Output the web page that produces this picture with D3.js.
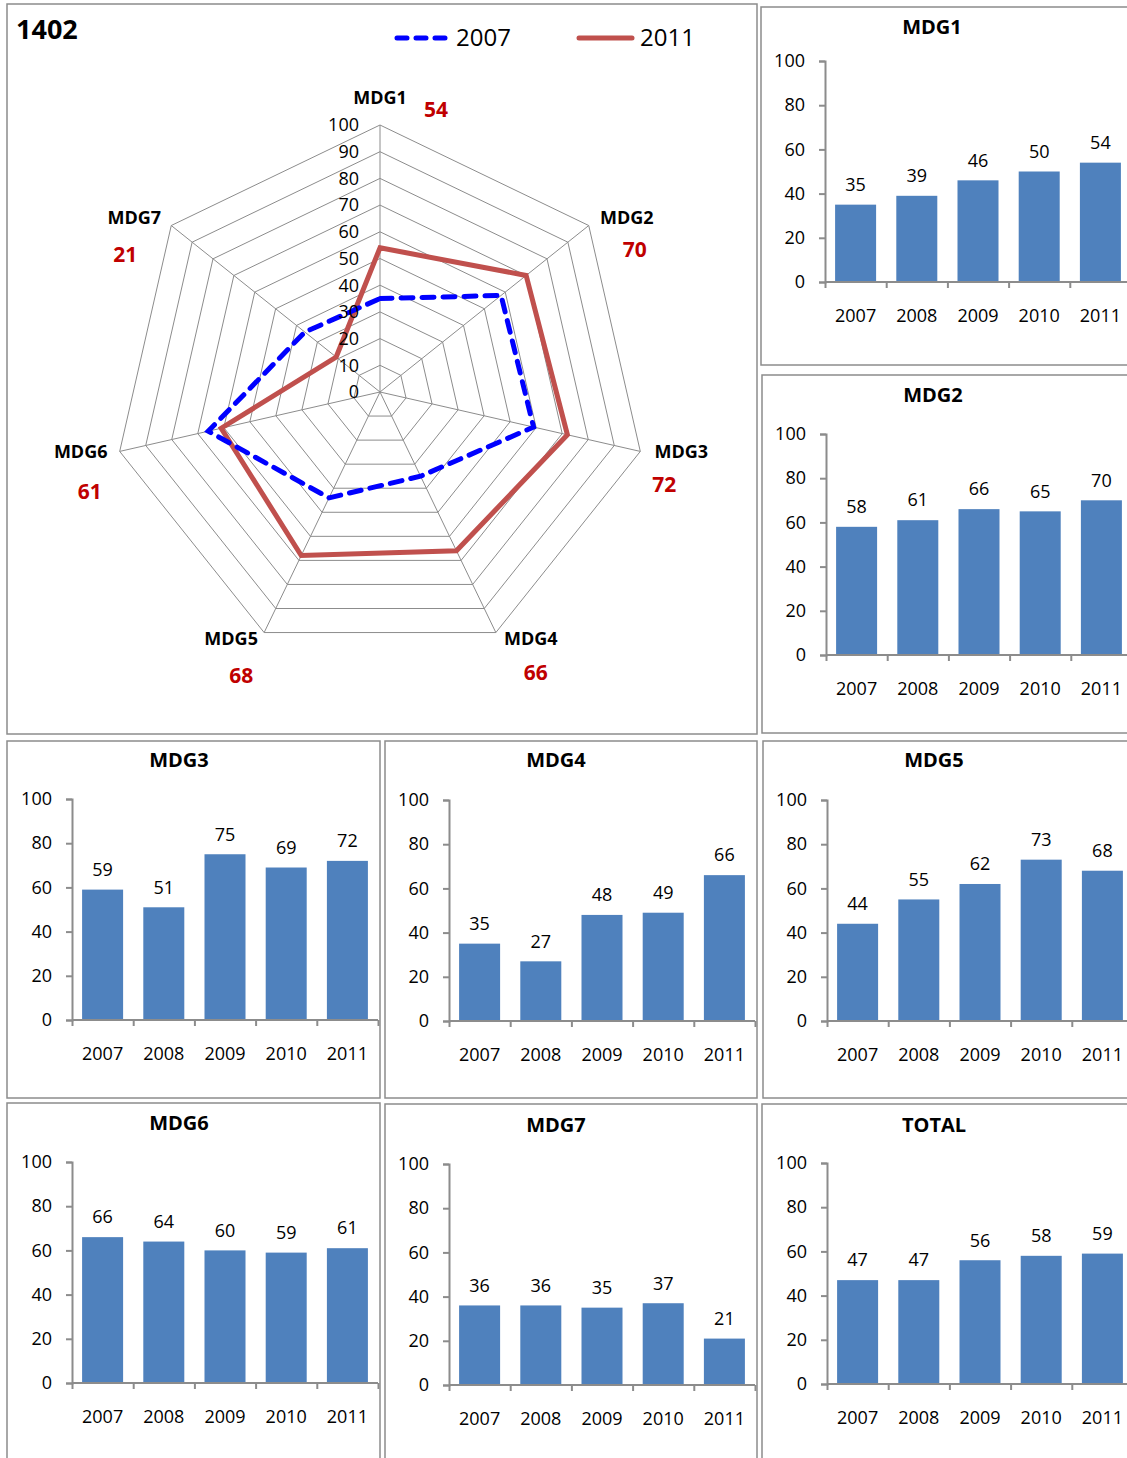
<!DOCTYPE html>
<html>
<head>
<meta charset="utf-8">
<script src="https://cdn.jsdelivr.net/npm/d3@7"></script>
<style>
body { margin: 0; background: #fff; }
svg { display: block; font-family: "Open Sans", sans-serif; }
</style>
</head>
<body>
<svg width="1127" height="1458"></svg>
<script>
// data
var years = ["2007", "2008", "2009", "2010", "2011"];
var goals = ["MDG1", "MDG2", "MDG3", "MDG4", "MDG5", "MDG6", "MDG7"];
var mdg1 = [35, 39, 46, 50, 54];
var mdg2 = [58, 61, 66, 65, 70];
var mdg3 = [59, 51, 75, 69, 72];
var mdg4 = [35, 27, 48, 49, 66];
var mdg5 = [44, 55, 62, 73, 68];
var mdg6 = [66, 64, 60, 59, 61];
var mdg7 = [36, 36, 35, 37, 21];
var total = [47, 47, 56, 58, 59];
var yTicks = [0, 20, 40, 60, 80, 100];
var radarTicks = [0, 10, 20, 30, 40, 50, 60, 70, 80, 90, 100];

var allGoals = [mdg1, mdg2, mdg3, mdg4, mdg5, mdg6, mdg7];
var radar2007 = allGoals.map(function(d) { return d[0]; });
var radar2011 = allGoals.map(function(d) { return d[4]; });

var svg = d3.select("svg");
var grey = "#8c8c8c";

// panel frames
var frames = [
  [7, 4, 750, 730], [761, 7, 380, 358], [762, 375, 380, 358],
  [7, 741, 373, 357], [385, 741, 372, 357], [763, 741, 380, 357],
  [7, 1103, 373, 370], [385, 1104, 372, 370], [762, 1104, 380, 370]
];
svg.selectAll("rect.frame").data(frames).enter().append("rect")
  .attr("class", "frame")
  .attr("x", function(d) { return d[0]; }).attr("y", function(d) { return d[1]; })
  .attr("width", function(d) { return d[2]; }).attr("height", function(d) { return d[3]; })
  .attr("fill", "none").attr("stroke", grey).attr("stroke-width", 1.5);

// ---- radar ----
var cx = 380, cy = 392;
var rs = d3.scaleLinear().domain([0, 100]).range([0, 267]);
var ang = function(i) { return i * 2 * Math.PI / goals.length; };
function pt(i, v) { return [cx + rs(v) * Math.sin(ang(i)), cy - rs(v) * Math.cos(ang(i))]; }

var rg = svg.append("g");
radarTicks.slice(1).forEach(function(t) {
  rg.append("polygon")
    .attr("points", goals.map(function(g, i) { return pt(i, t).join(","); }).join(" "))
    .attr("fill", "none").attr("stroke", grey).attr("stroke-width", 1);
});
goals.forEach(function(g, i) {
  var p = pt(i, 100);
  rg.append("line").attr("x1", cx).attr("y1", cy).attr("x2", p[0]).attr("y2", p[1])
    .attr("stroke", grey).attr("stroke-width", 1);
});

var line = d3.line().curve(d3.curveLinearClosed);
rg.append("path")
  .attr("d", line(radar2011.map(function(v, i) { return pt(i, v); })))
  .attr("fill", "none").attr("stroke", "#C0504D").attr("stroke-width", 5)
  .attr("stroke-linejoin", "miter");
rg.append("path")
  .attr("d", line(radar2007.map(function(v, i) { return pt(i, v); })))
  .attr("fill", "none").attr("stroke", "#0000FF").attr("stroke-width", 5)
  .attr("stroke-dasharray", "12,9").attr("stroke-linecap", "round");

// radial tick labels
rg.selectAll("text.rt").data(radarTicks).enter().append("text")
  .attr("x", cx - 21).attr("y", function(d) { return cy - rs(d); })
  .attr("dy", "0.35em").attr("text-anchor", "end")
  .attr("font-size", 18).attr("fill", "#000")
  .text(function(d) { return d; });

// axis labels + 2011 values, nudged off the outer vertex the way Excel places them
var labelOff = [[0, -27], [38, -8], [41, 0], [35, 6], [-33, 6], [-39, 0], [-37, -8]];
var valueOff = [[56, 12], [8, 32], [-17, 33], [5, 34], [10, 37], [9, 40], [-9, 37]];
goals.forEach(function(g, i) {
  var p = pt(i, 100);
  var x = p[0] + labelOff[i][0], y = p[1] + labelOff[i][1];
  rg.append("text").attr("x", x).attr("y", y).attr("dy", "0.35em")
    .attr("text-anchor", "middle").attr("font-size", 18).attr("font-weight", "bold")
    .text(g);
  rg.append("text").attr("x", x + valueOff[i][0]).attr("y", y + valueOff[i][1]).attr("dy", "0.35em")
    .attr("text-anchor", "middle").attr("font-size", 21).attr("font-weight", "bold")
    .attr("fill", "#C00000")
    .text(radar2011[i]);
});

svg.append("text").attr("x", 16).attr("y", 39).attr("font-size", 27)
  .attr("font-weight", "bold").text("1402");

// legend
svg.append("line").attr("x1", 397).attr("x2", 445).attr("y1", 38).attr("y2", 38)
  .attr("stroke", "#0000FF").attr("stroke-width", 5)
  .attr("stroke-dasharray", "10,9").attr("stroke-linecap", "round");
svg.append("text").attr("x", 456).attr("y", 38).attr("dy", "0.35em")
  .attr("font-size", 24).text("2007");
svg.append("line").attr("x1", 579).attr("x2", 632).attr("y1", 38).attr("y2", 38)
  .attr("stroke", "#C0504D").attr("stroke-width", 5).attr("stroke-linecap", "round");
svg.append("text").attr("x", 640).attr("y", 38).attr("dy", "0.35em")
  .attr("font-size", 24).text("2011");

// ---- bar charts ----
var charts = [
  { title: "MDG1", values: mdg1, x: 825, y: 61, t: -34 },
  { title: "MDG2", values: mdg2, x: 826, y: 434, t: -39 },
  { title: "MDG3", values: mdg3, x: 72, y: 799, t: -39 },
  { title: "MDG4", values: mdg4, x: 449, y: 800, t: -40 },
  { title: "MDG5", values: mdg5, x: 827, y: 800, t: -40 },
  { title: "MDG6", values: mdg6, x: 72, y: 1162, t: -39 },
  { title: "MDG7", values: mdg7, x: 449, y: 1164, t: -39 },
  { title: "TOTAL", values: total, x: 827, y: 1163, t: -38 }
];
var W = 306, H = 221;
var xs = d3.scaleBand().domain(years).range([0, W]).paddingInner(0.33).paddingOuter(0.165);
var ys = d3.scaleLinear().domain([0, 100]).range([H, 0]);
var xb = d3.scaleLinear().domain([0, years.length]).range([0, W]);

charts.forEach(function(c) {
  var g = svg.append("g").attr("transform", "translate(" + c.x + "," + c.y + ")");

  g.selectAll("rect").data(c.values).enter().append("rect")
    .attr("x", function(d, i) { return xs(years[i]); })
    .attr("y", function(d) { return ys(d); })
    .attr("width", xs.bandwidth())
    .attr("height", function(d) { return H - ys(d); })
    .attr("fill", "#4F81BD");

  g.selectAll("text.val").data(c.values).enter().append("text")
    .attr("class", "val")
    .attr("x", function(d, i) { return xs(years[i]) + xs.bandwidth() / 2; })
    .attr("y", function(d) { return ys(d) - 20; })
    .attr("dy", "0.35em").attr("text-anchor", "middle")
    .attr("font-size", 18).text(function(d) { return d; });

  var ya = g.append("g").call(d3.axisLeft(ys).tickValues(yTicks).tickSize(6).tickPadding(14));
  var xa = g.append("g").attr("transform", "translate(0," + H + ")")
    .call(d3.axisBottom(xb).ticks(years.length).tickSize(6).tickFormat(""));
  var xl = g.append("g").attr("transform", "translate(0," + H + ")")
    .call(d3.axisBottom(xs).tickSize(0).tickPadding(27));
  xl.select(".domain").remove();
  [ya, xa, xl].forEach(function(a) {
    a.selectAll("path, line").attr("stroke", grey).attr("stroke-width", 2);
    a.selectAll("text").attr("font-size", 18).attr("fill", "#000")
      .attr("font-family", "Open Sans, sans-serif");
  });
  xa.select(".domain").attr("d", "M0,0H" + W);

  g.append("text").attr("x", 107).attr("y", c.t).attr("dy", "0.35em")
    .attr("text-anchor", "middle").attr("font-size", 20).attr("font-weight", "bold")
    .text(c.title);
});
</script>
</body>
</html>
